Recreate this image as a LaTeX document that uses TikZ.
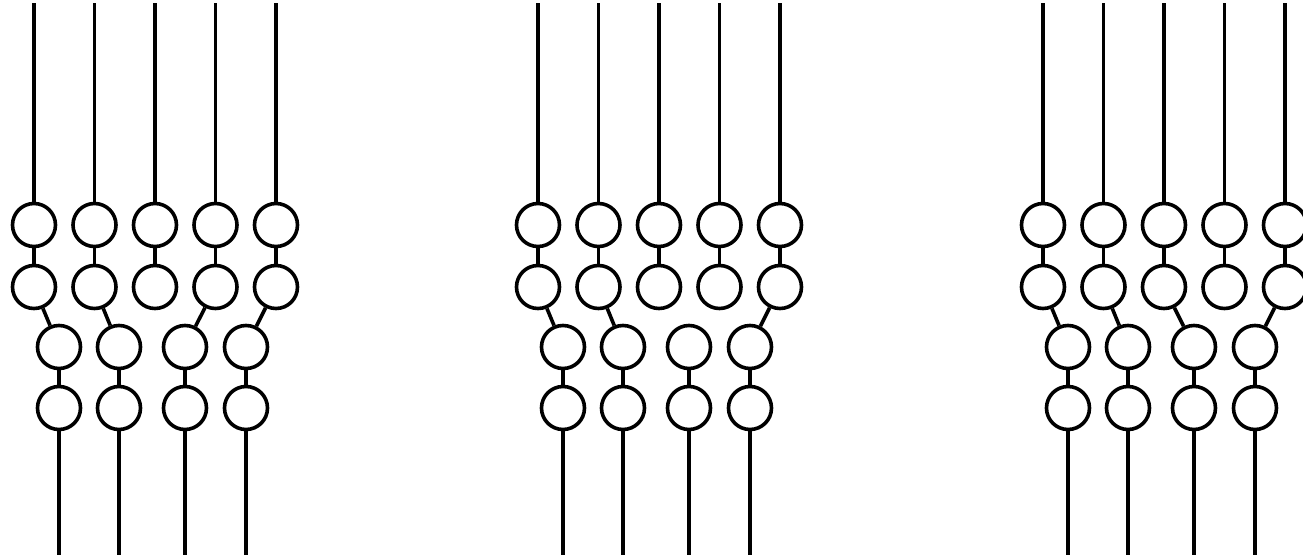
\documentclass[tikz,border=0pt]{standalone}
\usepackage{tikz}
\usetikzlibrary{positioning}
\tikzset{
  bead/.style={circle, draw, line width=1.8pt, minimum size=21.5pt, inner sep=0pt},
  wire/.style={line width=1.8pt},
}
\begin{document}
\begin{tikzpicture}[x=0.5pt, y=-0.5pt]
  \useasboundingbox (0,0) rectangle (1303,558);
  \foreach \g/\off/\links in {a/34/{1/1,2/2,4/3,5/4}, b/538/{1/1,2/2,5/4}, c/1043/{1/1,2/2,3/3,5/4}} {
    % five strands from the top
    \foreach \i in {1,...,5} {
      \coordinate (\g t\i) at ({\off+60.5*(\i-1)},3);
      \node[bead] (\g r\i) at ({\off+60.5*(\i-1)},225) {};
      \node[bead] (\g s\i) at ({\off+60.5*(\i-1)},287) {};
      \draw[wire] (\g t\i) -- (\g r\i);
      \draw[wire] (\g r\i) -- (\g s\i);
    }
    % four strands to the bottom
    \foreach \j/\dx in {1/25,2/85,3/151,4/212} {
      \node[bead] (\g u\j) at ({\off+\dx},347) {};
      \node[bead] (\g v\j) at ({\off+\dx},408) {};
      \coordinate (\g b\j) at ({\off+\dx},555);
      \draw[wire] (\g u\j) -- (\g v\j);
      \draw[wire] (\g v\j) -- (\g b\j);
    }
    \foreach \i/\j in \links {
      \draw[wire] (\g s\i) -- (\g u\j);
    }
  }
\end{tikzpicture}
\end{document}
